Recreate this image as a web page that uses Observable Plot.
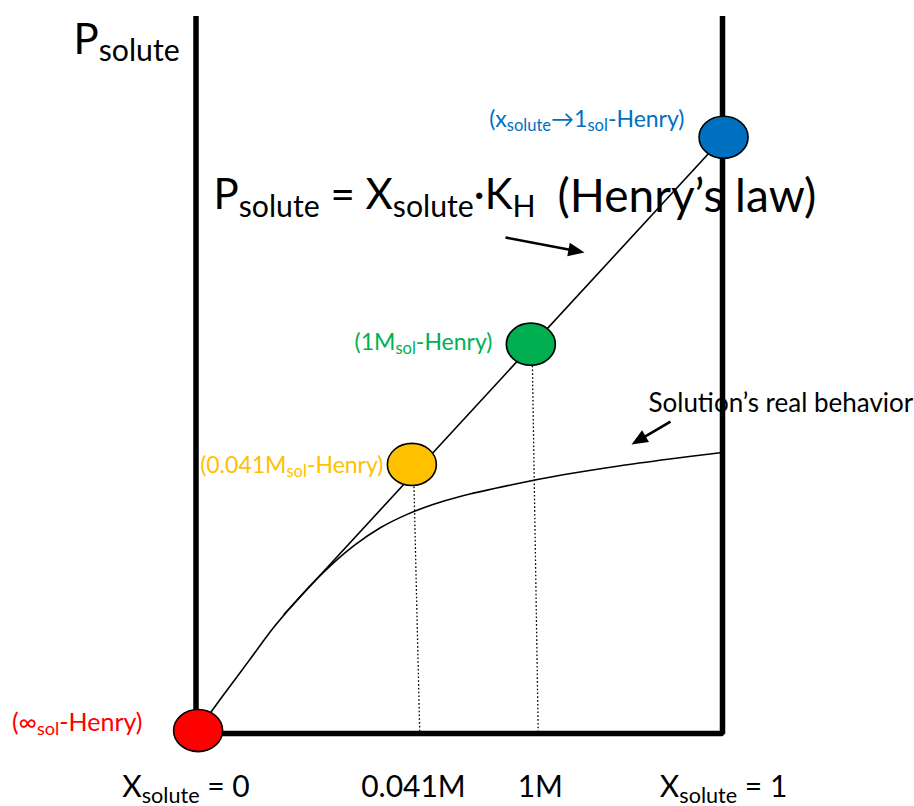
<!DOCTYPE html>
<html>
<head>
<meta charset="utf-8">
<script src="https://cdn.jsdelivr.net/npm/d3@7"></script>
<script src="https://cdn.jsdelivr.net/npm/@observablehq/plot@0.6"></script>
<style>
  html, body { margin: 0; padding: 0; background: #fff; }
  #chart { width: 914px; height: 806px; }
</style>
</head>
<body>
<div id="chart"></div>
<script>
// ---- data (X = mole fraction of solute, P = solute pressure, relative units) ----
const curveX = [0.003, 0.05, 0.10, 0.15, 0.20, 0.25, 0.30, 0.35, 0.40, 0.45, 0.50, 0.60, 0.70, 0.80, 0.90, 1.00];
const curveP = [0.005, 0.062, 0.121, 0.180, 0.231, 0.276, 0.314, 0.344, 0.366, 0.383, 0.396, 0.416, 0.433, 0.447, 0.459, 0.470];

const henryX = [0.167, 1.002];
const henryP = [0.199, 0.997];

const pointX = [0.004, 0.410, 0.636, 1.002];
const pointP = [0.005, 0.450, 0.651, 0.997];
const pointColors = ["#FF0000", "#FFC000", "#00B050", "#0070C0"];
const pointLabels = ["(∞_{sol}-Henry)", "(0.041M_{sol}-Henry)", "(1M_{sol}-Henry)", "(x_{solute}→1_{sol}-Henry)"];
const pointLabelX = [-0.1016, 0.3561, 0.5631, 0.9278];
const pointLabelP = [0.005, 0.4348, 0.6405, 1.0134];

const dropTopX = [0.414, 0.639];
const dropBottomX = [0.425, 0.650];
const dropTopP = [0.413, 0.615];

const frameX = [0, 0, 1, 1];
const frameP = [1.2, 0, 0, 1.2];

const tickX = [-0.019, 0.413, 0.654, 1.002];
const tickLabels = ["X_{solute} = 0", "0.041M", "1M", "X_{solute} = 1"];
const tickP = -0.107;

const titleText = "P_{solute}";
const equationText = "P_{solute} = X_{solute}·K_{H}";
const lawText = "(Henry’s law)";
const realText = "Solution’s real behavior";

const arrowX1 = [0.5878, 0.9012];
const arrowP1 = [0.8294, 0.5217];
const arrowX2 = [0.7379, 0.8272];
const arrowP2 = [0.8043, 0.4833];

// ---- build ----
const xRange = [195.5, 722], yRange = [733, 135];
const xs = d3.scaleLinear([0, 1], xRange);
const ys = d3.scaleLinear([0, 1], yRange);

const curve = curveX.map((x, i) => ({x, p: curveP[i]}));
const henry = [{x1: henryX[0], p1: henryP[0], x2: henryX[1], p2: henryP[1]}];
const points = pointX.map((x, i) => ({x, p: pointP[i], color: pointColors[i]}));
const labels = pointLabels.map((t, i) => ({t, x: pointLabelX[i], p: pointLabelP[i], color: pointColors[i], size: i === 0 ? 25 : 23}));
const drops = dropTopX.map((x, i) => ({x1: x, p1: dropTopP[i], x2: dropBottomX[i], p2: 0}));
const frame = frameX.map((x, i) => ({x, p: frameP[i]}));
const ticks = tickX.map((x, i) => ({x, t: tickLabels[i]}));

const headLen = 16;
const arrows = arrowX1.map((x1, i) => {
  const X1 = xs(x1), Y1 = ys(arrowP1[i]), X2 = xs(arrowX2[i]), Y2 = ys(arrowP2[i]);
  const dx = X2 - X1, dy = Y2 - Y1, L = Math.hypot(dx, dy);
  const ex = X2 - dx / L * (headLen * 0.6), ey = Y2 - dy / L * (headLen * 0.6);
  return {x1, p1: arrowP1[i], x2: arrowX2[i], p2: arrowP2[i],
          sx: xs.invert(ex), sp: ys.invert(ey),
          angle: Math.atan2(dx, -dy) * 180 / Math.PI};
});

const ellipse = {
  draw(ctx, size) {
    const r = Math.sqrt(size / Math.PI), rx = r, ry = r * 0.86, k = 0.5522847;
    ctx.moveTo(rx, 0);
    ctx.bezierCurveTo(rx, ry * k, rx * k, ry, 0, ry);
    ctx.bezierCurveTo(-rx * k, ry, -rx, ry * k, -rx, 0);
    ctx.bezierCurveTo(-rx, -ry * k, -rx * k, -ry, 0, -ry);
    ctx.bezierCurveTo(rx * k, -ry, rx, -ry * k, rx, 0);
    ctx.closePath();
  }
};
const arrowHead = {
  draw(ctx, size) {
    const r = Math.sqrt(size / Math.PI), L = r * 2.5, w = r * 1.05;
    ctx.moveTo(0, 0);
    ctx.lineTo(-w, L);
    ctx.lineTo(w, L);
    ctx.closePath();
  }
};

const chart = Plot.plot({
  width: 914,
  height: 806,
  margin: 0,
  x: {domain: [0, 1], range: xRange, axis: null},
  y: {domain: [0, 1], range: yRange, axis: null},
  style: {fontFamily: "Lato, 'Open Sans', sans-serif", background: "#fff", overflow: "visible"},
  marks: [
    Plot.text([titleText], {x: () => -0.2327, y: () => 1.1371, text: d => d, textAnchor: "start", lineAnchor: "bottom", fontSize: 42, fill: "black"}),
    Plot.text([equationText], {x: () => 0.0332, y: () => 0.8763, text: d => d, textAnchor: "start", lineAnchor: "bottom", fontSize: 42, fill: "black"}),
    Plot.text([lawText], {x: () => 0.6866, y: () => 0.8713, text: d => d, textAnchor: "start", lineAnchor: "bottom", fontSize: 46, fill: "black"}),
    Plot.text([realText], {x: () => 0.8594, y: () => 0.5368, text: d => d, textAnchor: "start", lineAnchor: "bottom", fontSize: 26, fill: "black"}),
    Plot.text(labels, {x: "x", y: "p", text: "t", fill: "color", textAnchor: "end", lineAnchor: "bottom", fontSize: "size"}),
    Plot.text(ticks, {x: "x", y: () => tickP, text: "t", textAnchor: "middle", lineAnchor: "bottom", fontSize: 30, fill: "black"}),
    Plot.line(curve, {x: "x", y: "p", curve: "catmull-rom", stroke: "black", strokeWidth: 1.6}),
    Plot.link(henry, {x1: "x1", y1: "p1", x2: "x2", y2: "p2", stroke: "black", strokeWidth: 1.6}),
    Plot.link(drops, {x1: "x1", y1: "p1", x2: "x2", y2: "p2", stroke: "black", strokeWidth: 1.3, strokeDasharray: "1.6,2.2"}),
    Plot.line(frame, {x: "x", y: "p", stroke: "black", strokeWidth: 5.5, strokeLinejoin: "miter", strokeLinecap: "butt"}),
    Plot.dot(points, {x: "x", y: "p", r: 24.5, symbol: ellipse, fill: "color", stroke: "black", strokeWidth: 1.6}),
    Plot.link(arrows, {x1: "x1", y1: "p1", x2: "sx", y2: "sp", stroke: "black", strokeWidth: 2.6}),
    Plot.dot(arrows, {x: "x2", y: "p2", r: 6.5, symbol: arrowHead, rotate: "angle", fill: "black", stroke: "none"})
  ]
});

// subscripts: turn "_{...}" into real subscript tspans
const NS = "http://www.w3.org/2000/svg";
const ratio = 0.72, shift = 0.17;
chart.querySelectorAll("text").forEach(t => {
  const s = t.textContent;
  if (!s.includes("_{")) return;
  const parts = s.split(/_\{([^}]*)\}/);
  while (t.firstChild) t.removeChild(t.firstChild);
  let shifted = false;
  parts.forEach((p, i) => {
    if (!p) return;
    const ts = document.createElementNS(NS, "tspan");
    ts.textContent = p;
    if (i % 2) {
      ts.setAttribute("font-size", (ratio * 100) + "%");
      if (!shifted) ts.setAttribute("dy", (shift / ratio).toFixed(4) + "em");
      shifted = true;
    } else if (shifted) {
      ts.setAttribute("dy", (-shift).toFixed(4) + "em");
      shifted = false;
    }
    t.appendChild(ts);
  });
});

document.getElementById("chart").appendChild(chart);
</script>
</body>
</html>
